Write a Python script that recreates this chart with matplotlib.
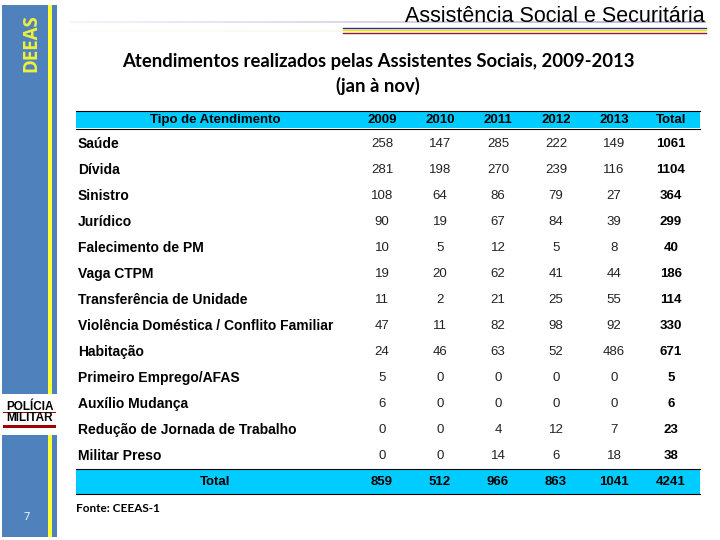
import numpy as np
import matplotlib
matplotlib.use("Agg")
import matplotlib.pyplot as plt
from matplotlib.patches import Rectangle

# dados da tabela
tipos = ["Saúde", "Dívida", "Sinistro", "Jurídico", "Falecimento de PM", "Vaga CTPM",
         "Transferência de Unidade", "Violência Doméstica / Conflito Familiar", "Habitação",
         "Primeiro Emprego/AFAS", "Auxílio Mudança", "Redução de Jornada de Trabalho",
         "Militar Preso"]
anos = ["2009", "2010", "2011", "2012", "2013"]
v2009 = [258, 281, 108, 90, 10, 19, 11, 47, 24, 5, 6, 0, 0]
v2010 = [147, 198, 64, 19, 5, 20, 2, 11, 46, 0, 0, 0, 0]
v2011 = [285, 270, 86, 67, 12, 62, 21, 82, 63, 0, 0, 4, 14]
v2012 = [222, 239, 79, 84, 5, 41, 25, 98, 52, 0, 0, 12, 6]
v2013 = [149, 116, 27, 39, 8, 44, 55, 92, 486, 0, 0, 7, 18]
total_linha = [1061, 1104, 364, 299, 40, 186, 114, 330, 671, 5, 6, 23, 38]
total_ano = [859, 512, 966, 863, 1041]
total_geral = 4241

valores = [v2009, v2010, v2011, v2012, v2013]

fig = plt.figure(figsize=(7.2, 5.4), dpi=100)
ax = fig.add_axes([0, 0, 1, 1])
ax.set_xlim(0, 720)
ax.set_ylim(540, 0)
ax.axis("off")

azul = "#4F81BD"
amarelo = "#FFFF33"
ciano = "#00CCFF"

# barra lateral (com espaco para o logo)
for y0, y1 in [(5, 394), (435, 537)]:
    ax.add_patch(Rectangle((2, y0), 55, y1 - y0, color=azul, lw=0))
    ax.add_patch(Rectangle((48, y0), 4, y1 - y0, color=amarelo, lw=0))
ax.text(31, 43, "DEEAS", rotation=90, color="#EEF03A", fontsize=13.5, fontweight="bold",
        family="Open Sans", ha="center", va="center")
ax.text(27, 517, "7", color="white", fontsize=8, family="Open Sans", ha="center", va="center")

# logo
ax.text(30, 407, "POLÍCIA", fontsize=8.5, fontweight="bold", family="Liberation Sans",
        ha="center", va="center", color="black")
ax.text(30, 418, "MILITAR", fontsize=8.5, fontweight="bold", family="Liberation Sans",
        ha="center", va="center", color="black")
ax.add_patch(Rectangle((3, 412), 53, 0.8, color="#A00000", lw=0))
ax.add_patch(Rectangle((3, 425), 53, 2.5, color="#A00000", lw=0))

# linhas de gradiente do titulo
n = 300
xs = np.linspace(70, 706, n + 1)
for i in range(n):
    t = i / n
    ax.plot(xs[i:i + 2], [22, 22], color="#8080B8", alpha=0.1 + 0.6 * t, lw=1.2,
            solid_capstyle="butt")
    ax.plot(xs[i:i + 2], [31, 31], color="#F5E9C0", alpha=0.1 + 0.5 * t, lw=1.5,
            solid_capstyle="butt")
ax.plot([343, 706], [27.5, 27.5], color="#303080", lw=1.0)
ax.plot([343, 706], [30, 30], color="#F0E000", lw=1.0)
ax.plot([343, 706], [32.5, 32.5], color="#902020", lw=1.0)

ax.text(705, 17, "Assistência Social e Securitária", fontsize=15.5, family="Liberation Sans",
        ha="right", va="center", color="black")

ax.text(378, 62, "Atendimentos realizados pelas Assistentes Sociais, 2009-2013",
        fontsize=13.3, family="Lato", fontweight="bold", ha="center", va="center")
ax.text(378, 86, "(jan à nov)", fontsize=13.3, family="Lato", fontweight="bold",
        ha="center", va="center")

# tabela
cols_x = [382, 440, 498, 556, 614, 671]
ax.add_patch(Rectangle((76, 111), 624, 17, color=ciano, lw=0))
ax.plot([76, 700], [110.5, 110.5], color="black", lw=0.8)
ax.plot([76, 700], [128.5, 128.5], color="black", lw=0.8)
ax.add_patch(Rectangle((76, 469), 624, 25, color=ciano, lw=0))
ax.plot([76, 700], [469, 469], color="black", lw=0.8)
ax.plot([76, 700], [494, 494], color="black", lw=0.8)

fh = "Liberation Sans"
ax.text(215, 120, "Tipo de Atendimento", fontsize=9.5, family=fh, fontweight="bold",
        ha="center", va="center")
for x, h in zip(cols_x, anos + ["Total"]):
    ax.text(x, 120, h, fontsize=9.5, family=fh, fontweight="bold", ha="center", va="center")

for i, tipo in enumerate(tipos):
    y = 144 + 26 * i
    ax.text(78, y, tipo, fontsize=10, family=fh, fontweight="bold", ha="left", va="center")
    for j in range(5):
        ax.text(cols_x[j], y, str(valores[j][i]), fontsize=9.5, family=fh,
                ha="center", va="center", color="#222222")
    ax.text(cols_x[5], y, str(total_linha[i]), fontsize=9.5, family=fh, fontweight="bold",
            ha="center", va="center")

ax.text(215, 482, "Total", fontsize=9.5, family=fh, fontweight="bold", ha="center", va="center")
for j in range(5):
    ax.text(cols_x[j], 482, str(total_ano[j]), fontsize=9.5, family=fh, fontweight="bold",
            ha="center", va="center")
ax.text(cols_x[5], 482, str(total_geral), fontsize=9.5, family=fh, fontweight="bold",
        ha="center", va="center")

ax.text(76, 508, "Fonte: CEEAS-1", fontsize=8.5, family="Lato", fontweight="bold",
        ha="left", va="center")

fig.savefig("out.png", dpi=100)
